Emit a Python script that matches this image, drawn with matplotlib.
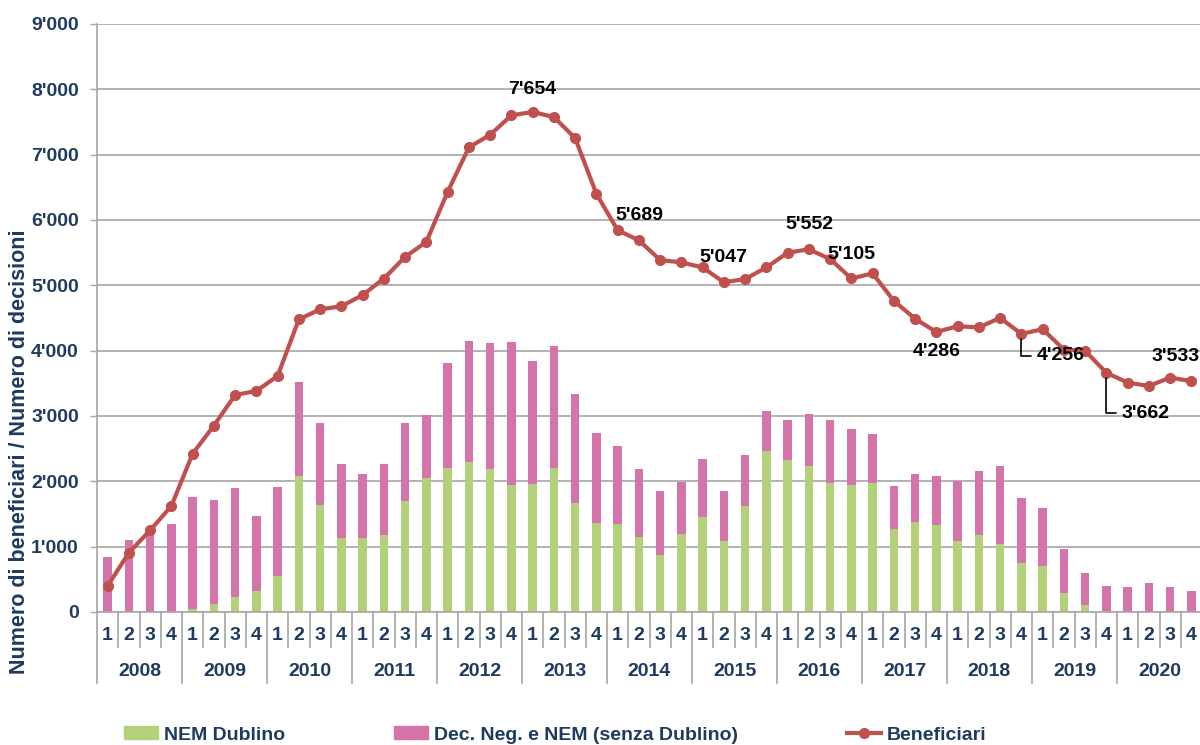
import matplotlib
matplotlib.use("Agg")
import matplotlib.pyplot as plt
import matplotlib.transforms as mtransforms
from matplotlib.patches import Patch
from matplotlib.lines import Line2D
import numpy as np

plt.rcParams['font.family'] = ['Liberation Sans', 'DejaVu Sans']
plt.rcParams['font.weight'] = 'bold'

# data, 2008 Q1 .. 2020 Q4
years = ['2008', '2009', '2010', '2011', '2012', '2013', '2014',
         '2015', '2016', '2017', '2018', '2019', '2020']
quarters = ['1', '2', '3', '4']

nem_dublino = [0, 0, 0, 0,
               45, 122, 225, 321,
               556, 2082, 1633, 1133,
               1133, 1184, 1699, 2046,
               2199, 2296, 2189, 1944,
               1954, 2199, 1668, 1362,
               1352, 1148, 877, 1199,
               1454, 1087, 1618, 2464,
               2327, 2235, 1970, 1949,
               1970, 1270, 1383, 1337,
               1092, 1173, 1046, 750,
               699, 291, 112, 20,
               0, 0, 0, 0]

dec_neg = [837, 1102, 1255, 1347,
           1710, 1592, 1668, 1153,
           1362, 1444, 1265, 1128,
           984, 1086, 1189, 965,
           1608, 1857, 1924, 2194,
           1888, 1868, 1669, 1383,
           1184, 1036, 970, 796,
           883, 760, 790, 613,
           612, 801, 969, 852,
           760, 654, 724, 740,
           908, 985, 1184, 990,
           888, 673, 485, 373,
           378, 444, 383, 321]

beneficiari = [398, 908, 1250, 1622,
               2423, 2852, 3321, 3383,
               3612, 4480, 4633, 4679,
               4852, 5103, 5435, 5665,
               6431, 7111, 7305, 7601,
               7654, 7576, 7254, 6401,
               5844, 5689, 5387, 5351,
               5274, 5047, 5096, 5274,
               5499, 5552, 5402, 5105,
               5182, 4763, 4488, 4286,
               4375, 4355, 4503, 4256,
               4329, 4017, 3997, 3662,
               3511, 3460, 3588, 3533]

labelled = [20, 25, 29, 33, 35, 39, 43, 47, 51]

# label placement (offset points, alignment, leader line)
label_style = {
    20: ((0, 16), 'center', False),
    25: ((0, 18), 'center', False),
    29: ((0, 17.5), 'center', False),
    33: ((0, 18), 'center', False),
    35: ((0, 17.5), 'center', False),
    39: ((0, -14), 'center', False),
    43: ((11, -15.6), 'left', True),
    47: ((11, -29), 'left', True),
    51: ((6, 17.5), 'right', False),
}

navy = '#1F3A5F'
green = '#B3D17B'
pink = '#D574AB'
red = '#C0504D'
grid = '#A6A6A6'

def fmt(v):
    return f"{int(v):,}".replace(',', "'")

W, H = 1200, 745
fig = plt.figure(figsize=(12, 7.45), dpi=100)
ax = fig.add_axes([97 / W, 1 - 612 / H, 1105 / W, 588 / H])

x = np.arange(len(beneficiari))
ax.bar(x, nem_dublino, width=0.4, color=green, zorder=2)
ax.bar(x, dec_neg, width=0.4, bottom=nem_dublino, color=pink, zorder=2)
ax.plot(x, beneficiari, color=red, lw=3, marker='o', markersize=7, zorder=3)

ax.set_xlim(-0.5, len(x) - 0.5)
ax.set_ylim(0, 9000)
ax.set_yticks(np.arange(0, 9001, 1000))
ax.set_yticklabels([fmt(v) for v in np.arange(0, 9001, 1000)])
ax.yaxis.grid(True, color=grid, lw=1.2)
ax.set_axisbelow(True)
ax.tick_params(axis='y', length=4.7, width=1, color=grid, pad=8.4,
               labelsize=14, labelcolor=navy)
ax.set_xticks([])
for s in ['top', 'right']:
    ax.spines[s].set_visible(False)
for s in ['left', 'bottom']:
    ax.spines[s].set_color(grid)
    ax.spines[s].set_linewidth(1.2)

# two-level category axis
trans = mtransforms.blended_transform_factory(ax.transData, ax.transAxes)
q_bot = (612 - 647) / 588
y_bot = (612 - 683) / 588
for i in range(len(x) + 1):
    low = y_bot if i % 4 == 0 else q_bot
    ax.plot([i - 0.5, i - 0.5], [0, low], color=grid, lw=1.2,
            transform=trans, clip_on=False)
for i in x:
    ax.text(i, (612 - 635) / 588, quarters[i % 4], transform=trans,
            ha='center', va='center', fontsize=14, color=navy)
for k, yr in enumerate(years):
    ax.text(4 * k + 1.5, (612 - 671) / 588, yr, transform=trans,
            ha='center', va='center', fontsize=14, color=navy)

# data labels
for i in labelled:
    off, ha, leader = label_style[i]
    props = None
    if leader:
        props = dict(arrowstyle='-', color='black', lw=1.2, shrinkA=2, shrinkB=4,
                     connectionstyle='angle,angleA=0,angleB=90,rad=0')
    ax.annotate(fmt(beneficiari[i]), xy=(i, beneficiari[i]), xytext=off,
                textcoords='offset points', ha=ha, va='center', fontsize=14,
                color='black', arrowprops=props, zorder=4)

fig.text(20 / W, 1 - 452 / H, 'Numero di beneficiari / Numero di decisioni',
         rotation=90, ha='center', va='center', fontsize=15.5, color=navy)

handles = [Patch(color=green, label='NEM Dublino'),
           Patch(color=pink, label='Dec. Neg. e NEM (senza Dublino)'),
           Line2D([], [], color=red, lw=3, marker='o', markersize=7,
                  label='Beneficiari')]
leg = fig.legend(handles=handles, loc='center left', ncol=3, frameon=False,
                 bbox_to_anchor=(124 / W, 1 - 735 / H), borderpad=0,
                 borderaxespad=0, handlelength=1.75, handleheight=0.6,
                 handletextpad=0.3, columnspacing=5.6, fontsize=14)
for t in leg.get_texts():
    t.set_color(navy)

fig.savefig('out.png', dpi=100)
